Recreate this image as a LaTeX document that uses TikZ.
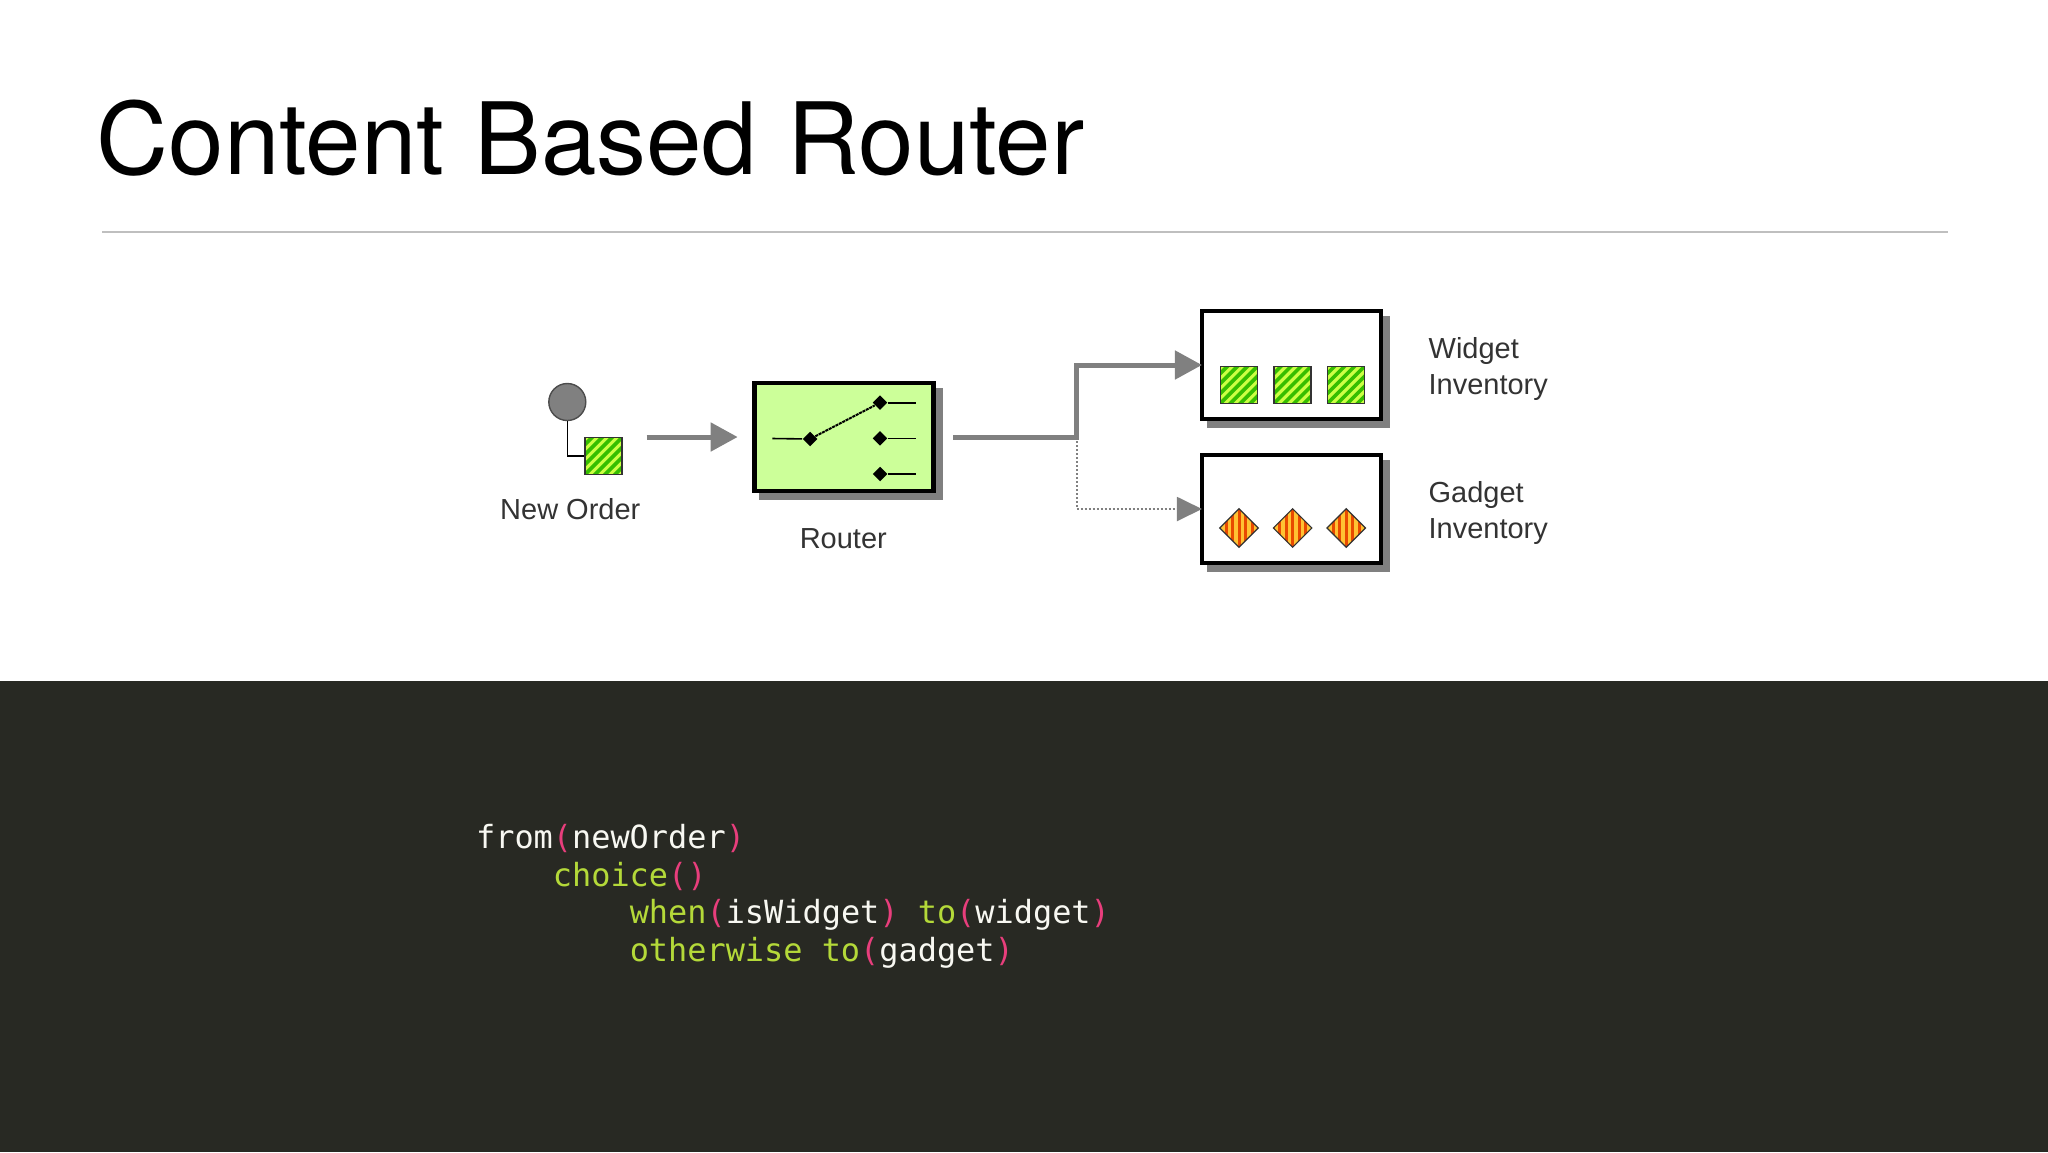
\documentclass[tikz,border=0pt]{standalone}
\usepackage{fontspec}
\setmainfont{Liberation Sans}
\setmonofont{DejaVu Sans Mono}
\newfontfamily\titlefont[WordSpace=1.08]{TeX Gyre Heros}
\usetikzlibrary{arrows.meta,positioning,shadows,shapes.geometric}
\definecolor{panel}{HTML}{282923}
\definecolor{routerfill}{HTML}{CCFF99}
\definecolor{shade}{HTML}{808080}
\definecolor{pinkish}{HTML}{E83E7C}
\definecolor{limeish}{HTML}{B4D939}
\definecolor{codewhite}{HTML}{F8F8F2}
\definecolor{hatchgreen}{HTML}{35BE00}
\definecolor{hatchlime}{HTML}{CCFF44}
\definecolor{hatchred}{HTML}{E84A00}
\definecolor{hatchyellow}{HTML}{FFC233}
\newcommand{\pk}[1]{\textcolor{pinkish}{#1}}
\newcommand{\lm}[1]{\textcolor{limeish}{#1}}
\begin{document}
\begin{tikzpicture}[x=.5pt,y=-.5pt,>={Triangle[length=13.5pt,width=14pt]},
                    node distance=26.8pt,semithick]
  \tikzstyle{every node}=[inner sep=0pt]
  \tikzstyle{stepbox}=[draw=black,rectangle,line width=2.25pt,minimum width=89.5pt,minimum height=54pt,
                       general shadow={fill=shade,draw=shade,shadow xshift=3.5pt,shadow yshift=-3.5pt}]
  \tikzstyle{widgetmsg}=[draw=black!80,rectangle,line width=.7pt,minimum size=18.5pt,fill=hatchlime,
                         path picture={\foreach \k in {-5,...,5}
                           \draw[hatchgreen,line width=1.8pt]
                             ([shift={(\k*10-30,30)}]path picture bounding box.center) -- ++(60,-60);}]
  \tikzstyle{gadgetmsg}=[draw=black!80,diamond,aspect=1,line width=.6pt,minimum size=19.5pt,fill=hatchyellow,
                         path picture={\foreach \k in {-3,...,3}
                           \draw[hatchred,line width=1.5pt]
                             ([shift={(\k*6.5,-30)}]path picture bounding box.center) -- ++(0,60);}]
  \tikzstyle{pin}=[diamond,aspect=1,fill=black,minimum size=7.5pt]
  \tikzstyle{flow}=[draw=shade,line width=2.5pt]
  \tikzstyle{flowdot}=[draw=shade,line width=1pt,densely dotted,>={Triangle[length=12.5pt,width=12pt]}]
  \tikzstyle{wire}=[draw=black,line width=.8pt]
  \tikzstyle{label}=[font=\fontsize{14.5}{18}\selectfont,text=black!80]
  \tikzstyle{code}=[font=\ttfamily\fontsize{15.95}{18.7}\selectfont,text=codewhite,align=left]

  \fill[panel] (0,680.5) rectangle (2048,1152);
  \useasboundingbox (0,0) rectangle (2048,1152);

  \node[anchor=base west,font=\titlefont\fontsize{49.9}{60}\selectfont] (title) at (96,174.7) {Content Based Router};
  \coordinate (ruleleft) at (102,231.7);
  \coordinate (ruleright) at (1948,231.7);
  \draw[black!25,line width=.9pt] (ruleleft) -- (ruleright);

  \node[circle,draw=black!70,line width=.7pt,fill=shade,minimum size=18.5pt] (orderdot) at (567.3,402) {};
  \node[widgetmsg] (ordermsg) at (603.5,456) {};
  \node[label,anchor=base] (orderlabel) at (570.3,519.3) {New Order};
  \coordinate (orderout) at (646.7,437);

  \node[stepbox,fill=routerfill] (router) at (844,437) {};
  \node[label,anchor=base] (routerlabel) at (843.3,548.3) {Router};
  \coordinate (fork) at (1076.7,437);

  \coordinate (pinin) at (772.3,438.5);
  \coordinate (pinout1) at (915.7,402.7);
  \coordinate (pinout2) at (915.7,438.3);
  \coordinate (pinout3) at (915.7,474);
  \node[pin] (pin0) at (810,439) {};
  \node[pin] (pin1) at (880,402.7) {};
  \node[pin] (pin2) at (880,438.3) {};
  \node[pin] (pin3) at (880,474) {};

  \node[stepbox,fill=white] (widget) at (1291.7,365) {};
  \node[stepbox,fill=white,below of=widget,node distance=72pt] (gadget) {};

  \node[widgetmsg] (widget1) at (1239,384.7) {};
  \node[widgetmsg,right of=widget1] (widget2) {};
  \node[widgetmsg,right of=widget2] (widget3) {};
  \node[gadgetmsg] (gadget1) at (1239,528) {};
  \node[gadgetmsg,right of=gadget1] (gadget2) {};
  \node[gadgetmsg,right of=gadget2] (gadget3) {};

  \node[label,anchor=north west,align=left] (widgetlabel) at (1428,337) {Widget\\Inventory};
  \node[label,anchor=north west,align=left] (gadgetlabel) at (1428,481) {Gadget\\Inventory};

  \draw[wire] (orderdot) |- (ordermsg);
  \draw[flow,->,shorten >=7.3pt] (orderout) -- (router.west);
  \draw[flow,->,shorten <=8.8pt,shorten >=-1pt] (router.east) -- (fork) |- (widget.west);
  \draw[flowdot,->,shorten >=-1pt] (fork) |- (gadget.west);

  \draw[wire] (pinin) -- (pin0);
  \draw[wire,line width=1pt,dash pattern=on 1.5pt off .4pt] (pin0) -- (pin1);
  \draw[wire] (pin1) -- (pinout1);
  \draw[wire] (pin2) -- (pinout2);
  \draw[wire] (pin3) -- (pinout3);

  \node[code,anchor=north west] (routecode) at (475.5,824) {%
    from\pk{(}newOrder\pk{)}\\
    \phantom{....}\lm{choice}\pk{()}\\
    \phantom{........}\lm{when}\pk{(}isWidget\pk{)} \lm{to}\pk{(}widget\pk{)}\\
    \phantom{........}\lm{otherwise to}\pk{(}gadget\pk{)}};
\end{tikzpicture}
\end{document}
